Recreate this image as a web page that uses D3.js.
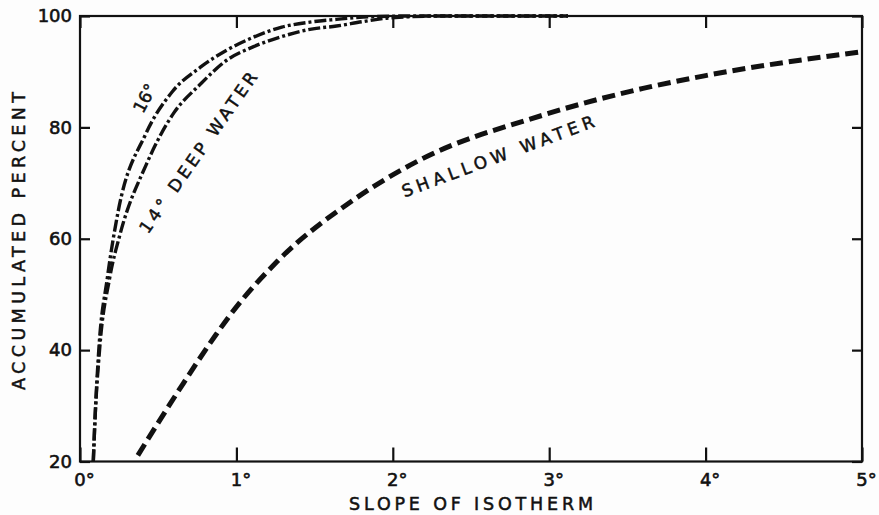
<!DOCTYPE html>
<html>
<head>
<meta charset="utf-8">
<script src="https://cdn.jsdelivr.net/npm/d3@7/dist/d3.min.js"></script>
<style>
  html, body { margin: 0; padding: 0; background: #fdfdfd; }
  svg { display: block; }
  text { font-family: "DejaVu Sans", sans-serif; fill: #111; }
</style>
</head>
<body>
<script>
// ---- data ----
const slope16 = [0.085, 0.095, 0.12, 0.175, 0.244, 0.42, 0.59, 0.77, 0.94, 1.11, 1.29, 1.47, 1.64, 1.81, 2.1, 2.5, 3.12];
const pct16   = [20, 27, 40, 53, 64.9, 78.8, 86.4, 90.8, 93.9, 96.2, 98.0, 98.9, 99.4, 99.8, 100, 100, 100];

const slope14 = [0.085, 0.095, 0.125, 0.19, 0.255, 0.425, 0.6, 0.764, 0.94, 1.11, 1.29, 1.47, 1.64, 1.81, 1.96, 2.3, 3.12];
const pct14   = [20, 27, 40, 53, 60.7, 73.4, 82.6, 87.6, 92.1, 94.5, 96.3, 97.6, 98.2, 99.0, 99.6, 100, 100];

const slopeShallow = [0.37, 0.66, 0.87, 0.96, 1.26, 1.75, 2.17, 2.96, 3.6, 4.0, 5.0];
const pctShallow   = [21.1, 34.0, 42.8, 46.3, 55.9, 67.0, 74.1, 82.2, 87.0, 89.3, 93.6];

const xTicks = [0, 1, 2, 3, 4, 5];
const yTicks = [20, 40, 60, 80, 100];
const xTitle = "SLOPE OF ISOTHERM";
const yTitle = "ACCUMULATED PERCENT";
const label16 = "16°";
const label14 = "14° DEEP WATER";
const labelShallow = "SHALLOW WATER";

// ---- layout ----
const W = 879, H = 515;
const svg = d3.select("body").append("svg").attr("width", W).attr("height", H);

const x = d3.scaleLinear().domain([0, 5]).range([80, 862]);
const y = d3.scaleLinear().domain([20, 100]).range([461.5, 16]);

// frame
svg.append("rect")
  .attr("x", x(0)).attr("y", y(100))
  .attr("width", x(5) - x(0)).attr("height", y(20) - y(100))
  .attr("fill", "none").attr("stroke", "#111").attr("stroke-width", 2.2);

function styleAxis(g) {
  g.select(".domain").remove();
  g.selectAll(".tick line").attr("stroke", "#111").attr("stroke-width", 2.2);
  g.selectAll(".tick text").attr("fill", "#111").attr("font-family", "DejaVu Sans, sans-serif")
    .attr("stroke", "#111").attr("stroke-width", 0.6);
}

// left axis
svg.append("g").attr("transform", `translate(${x(0)},0)`)
  .call(d3.axisLeft(y).tickValues(yTicks).tickSizeInner(-10).tickSizeOuter(0).tickPadding(8).tickFormat(d3.format("d")))
  .call(styleAxis)
  .call(g => g.selectAll(".tick text").attr("font-size", 18));

// right axis (ticks only)
svg.append("g").attr("transform", `translate(${x(5)},0)`)
  .call(d3.axisRight(y).tickValues(yTicks).tickSizeInner(-10).tickSizeOuter(0).tickFormat(""))
  .call(styleAxis);

// bottom axis
svg.append("g").attr("transform", `translate(0,${y(20)})`)
  .call(d3.axisBottom(x).tickValues(xTicks).tickSizeInner(-14).tickSizeOuter(0).tickPadding(11).tickFormat(d => d + "°"))
  .call(styleAxis)
  .call(g => g.selectAll(".tick text").attr("font-size", 18).attr("dx", 4).attr("dy", "0.75em"));

// top axis (ticks only)
svg.append("g").attr("transform", `translate(0,${y(100)})`)
  .call(d3.axisTop(x).tickValues(xTicks).tickSizeInner(-12).tickSizeOuter(0).tickFormat(""))
  .call(styleAxis);

// axis titles
svg.append("text")
  .attr("x", 471).attr("y", 510)
  .attr("text-anchor", "middle")
  .attr("font-size", 17.5)
  .attr("stroke", "#111").attr("stroke-width", 0.5)
  .attr("textLength", 244).attr("lengthAdjust", "spacing")
  .text(xTitle);

svg.append("text")
  .attr("transform", "translate(25,241) rotate(-90)")
  .attr("text-anchor", "middle")
  .attr("font-size", 17.5)
  .attr("stroke", "#111").attr("stroke-width", 0.5)
  .attr("textLength", 298).attr("lengthAdjust", "spacing")
  .text(yTitle);

// curves
const line = d3.line().x(d => x(d[0])).y(d => y(d[1])).curve(d3.curveMonotoneX);

svg.append("path")
  .datum(d3.zip(slopeShallow, pctShallow))
  .attr("d", line)
  .attr("fill", "none").attr("stroke", "#111")
  .attr("stroke-width", 5).attr("stroke-dasharray", "13,6");

svg.append("path")
  .datum(d3.zip(slope14, pct14))
  .attr("d", line)
  .attr("fill", "none").attr("stroke", "#111")
  .attr("stroke-width", 3.4).attr("stroke-dasharray", "12,3,3,3");

svg.append("path")
  .datum(d3.zip(slope16, pct16))
  .attr("d", line)
  .attr("fill", "none").attr("stroke", "#111")
  .attr("stroke-width", 3.4).attr("stroke-dasharray", "12,3,3,3");

// curve labels
svg.append("text")
  .attr("transform", "translate(150,101) rotate(-62)")
  .attr("text-anchor", "middle").attr("font-size", 17)
  .attr("stroke", "#111").attr("stroke-width", 0.5)
  .text(label16);

svg.append("text")
  .attr("transform", "translate(203,156) rotate(-55)")
  .attr("text-anchor", "middle").attr("font-size", 17)
  .attr("stroke", "#111").attr("stroke-width", 0.5)
  .attr("textLength", 192).attr("lengthAdjust", "spacing")
  .text(label14);

svg.append("text")
  .attr("transform", "translate(500,162) rotate(-20.4)")
  .attr("text-anchor", "middle").attr("font-size", 17)
  .attr("stroke", "#111").attr("stroke-width", 0.5)
  .attr("textLength", 204).attr("lengthAdjust", "spacing")
  .text(labelShallow);
</script>
</body>
</html>
